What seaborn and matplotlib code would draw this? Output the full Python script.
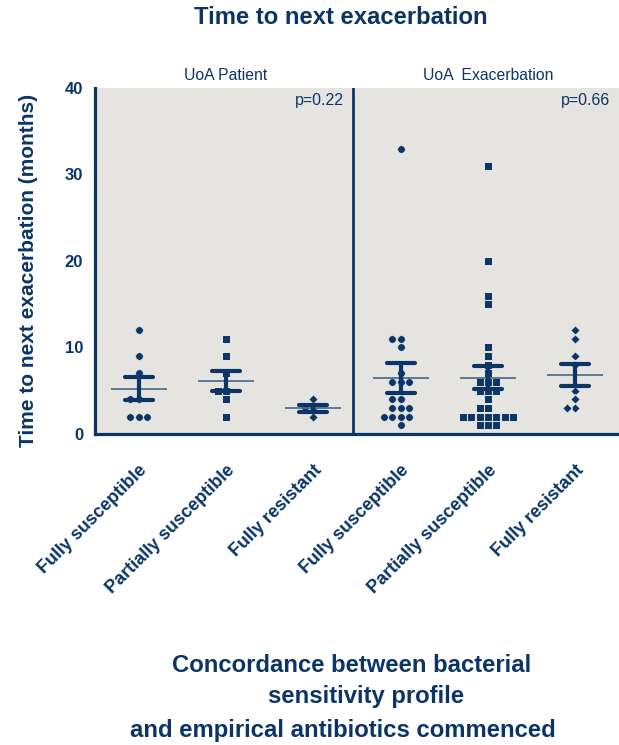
import numpy as np
import pandas as pd
import seaborn as sns
import matplotlib.pyplot as plt

# values (months)
groups = ['P_FS', 'P_PS', 'P_FR', 'E_FS', 'E_PS', 'E_FR']
tick_labels = ['Fully susceptible', 'Partially susceptible', 'Fully resistant',
               'Fully susceptible', 'Partially susceptible', 'Fully resistant']
profile = ['FS', 'PS', 'FR', 'FS', 'PS', 'FR']

pat_fs = [12, 9, 7, 4, 4, 2, 2, 2]
pat_ps = [11, 9, 7, 5, 5, 4, 2]
pat_fr = [4, 3, 3, 2]
exa_fs = [33, 11, 11, 10, 7, 6, 6, 6, 4, 4, 3, 3, 3, 2, 2, 2, 2, 1]
exa_ps = [31, 20, 16, 15, 10, 9, 8, 7, 6, 6, 6, 5, 5, 5, 4, 3, 3,
          2, 2, 2, 2, 2, 2, 2, 1, 1, 1]
exa_fr = [12, 11, 9, 8, 5, 4, 3, 3]

panel_titles = ['UoA Patient', 'UoA  Exacerbation']
p_values = ['p=0.22', 'p=0.66']

navy = '#0a3566'
bg = '#e6e4e1'

rows = []
for g, p, vals in zip(groups, profile, [pat_fs, pat_ps, pat_fr, exa_fs, exa_ps, exa_fr]):
    for v in vals:
        rows.append({'group': g, 'profile': p, 'months': v})
df = pd.DataFrame(rows)

sns.set_style('white')
plt.rcParams['font.family'] = ['Liberation Sans', 'DejaVu Sans']

fig = plt.figure(figsize=(6.19, 7.45), dpi=100)
ax = fig.add_axes([95 / 619, 1 - 434 / 745, 524 / 619, 346 / 745])
ax.set_facecolor(bg)

# marker, size, edge (edge drawn in background colour to leave small gaps)
markers = {'FS': ('o', 5.4, 0.4), 'PS': ('s', 5.05, 0.75), 'FR': ('D', 4.95, 0.85)}
for p, (m, s, e) in markers.items():
    sns.swarmplot(data=df[df.profile == p], x='group', y='months', order=groups,
                  marker=m, color=navy, size=s, linewidth=e, edgecolor=bg,
                  ax=ax, zorder=3)

# mean line + SEM
sns.pointplot(data=df, x='group', y='months', order=groups, errorbar='se',
              capsize=0.32, linestyle='none', marker='_', markersize=41,
              markeredgewidth=1.3, color='#52708f',
              err_kws={'color': navy, 'linewidth': 3}, ax=ax, zorder=4)

ax.set_xlim(-0.5, 5.5)
ax.set_ylim(0, 40)
ax.set_yticks([0, 10, 20, 30, 40])
ax.axvline(2.45, color=navy, lw=2, zorder=5)

for s in ['top', 'right']:
    ax.spines[s].set_visible(False)
for s in ['left', 'bottom']:
    ax.spines[s].set_color(navy)
    ax.spines[s].set_linewidth(2.3)

ax.tick_params(axis='both', colors=navy, direction='out', length=5, width=2.3)
ax.tick_params(axis='x', pad=15)
ax.set_xticks(range(6))
ax.set_xticklabels(tick_labels, rotation=45, ha='right', rotation_mode='anchor',
                   fontsize=13, fontweight='bold', color=navy)
for t in ax.get_yticklabels():
    t.set_fontsize(12)
    t.set_fontweight('bold')
    t.set_color(navy)

ax.set_xlabel('')
ax.set_ylabel('Time to next exacerbation (months)', fontsize=15, fontweight='bold',
              color=navy)
ax.yaxis.set_label_coords(-0.108, 0.474)

trans = ax.get_xaxis_transform()
ax.text(1, 1.035, panel_titles[0], transform=trans, ha='center', va='center',
        fontsize=11.3, color=navy)
ax.text(4, 1.035, panel_titles[1], transform=trans, ha='center', va='center',
        fontsize=11.3, color=navy)
ax.text(2.35, 38.5, p_values[0], ha='right', va='center', fontsize=11.5, color=navy)
ax.text(5.4, 38.5, p_values[1], ha='right', va='center', fontsize=11.5, color=navy)

fig.text(341 / 619, 1 - 18 / 745, 'Time to next exacerbation', ha='center',
         va='center', fontsize=17.2, fontweight='bold', color=navy)
xlab = ['Concordance between bacterial', 'sensitivity profile',
        'and empirical antibiotics commenced']
for line, xc, yc in zip(xlab, [352, 366, 343], [665, 697, 730]):
    fig.text(xc / 619, 1 - yc / 745, line, ha='center', va='center',
             fontsize=17.2, fontweight='bold', color=navy)

fig.savefig('out.png', dpi=100)
